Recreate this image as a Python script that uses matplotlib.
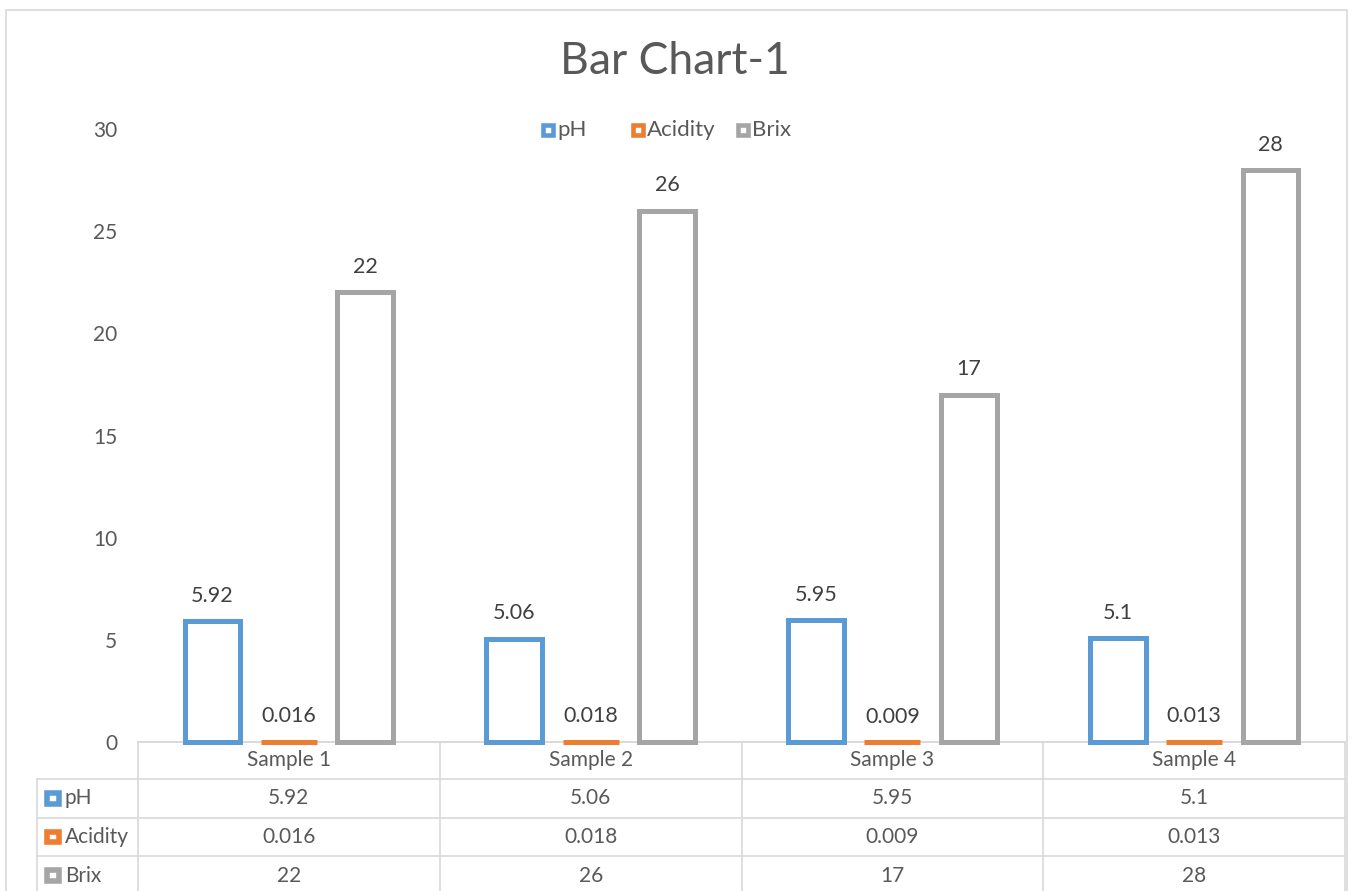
import matplotlib.pyplot as plt
from matplotlib.patches import Rectangle
import numpy as np

samples = ["Sample 1", "Sample 2", "Sample 3", "Sample 4"]
series = ["pH", "Acidity", "Brix"]
ph = [5.92, 5.06, 5.95, 5.1]
acidity = [0.016, 0.018, 0.009, 0.013]
brix = [22, 26, 17, 28]
values = [ph, acidity, brix]
labels_txt = [["5.92", "5.06", "5.95", "5.1"],
              ["0.016", "0.018", "0.009", "0.013"],
              ["22", "26", "17", "28"]]
colors = ["#5B9BD5", "#ED7D31", "#A5A5A5"]
yticks = [0, 5, 10, 15, 20, 25, 30]

plt.rcParams['font.family'] = ['Lato', 'DejaVu Sans']
W, H = 1353, 891
fig = plt.figure(figsize=(W / 100, H / 100), dpi=100)
grid_c = "#D9D9D9"
text_c = "#595959"
fs = 15

# overlay in pixel coordinates for frame, legend and data table
ov = fig.add_axes([0, 0, 1, 1])
ov.set_xlim(0, W)
ov.set_ylim(H, 0)
ov.axis("off")

ov.plot([5.5, 5.5, 1347, 1347], [H + 5, 10, 10, H + 5], color=grid_c, lw=1.2)

x0, x1 = 138, 1345
y_axis, y_top = 742, 129
rows = [742, 779, 818, 856, 895]
tab_left = 37
colw = (x1 - x0) / len(samples)

# horizontal table lines
ov.plot([x0, x1], [rows[0], rows[0]], color=grid_c, lw=1.2)
for r in rows[1:4]:
    ov.plot([tab_left, x1], [r, r], color=grid_c, lw=1.2)
# vertical table lines
ov.plot([tab_left, tab_left], [rows[1], H + 5], color=grid_c, lw=1.2)
for i in range(len(samples) + 1):
    xx = x0 + i * colw
    ov.plot([xx, xx], [rows[0], H + 5], color=grid_c, lw=1.2)

for i, s in enumerate(samples):
    ov.text(x0 + (i + 0.5) * colw, (rows[0] + rows[1]) / 2, s, ha="center", va="center",
            fontsize=fs, color=text_c)
for j, name in enumerate(series):
    yc = (rows[j + 1] + rows[j + 2]) / 2
    ov.add_patch(Rectangle((46.7, yc - 5.2), 12.6, 10.5, facecolor="white",
                           edgecolor=colors[j], lw=4))
    ov.text(65, yc, name, ha="left", va="center", fontsize=fs, color=text_c)
    for i in range(len(samples)):
        ov.text(x0 + (i + 0.5) * colw, yc, labels_txt[j][i], ha="center", va="center",
                fontsize=fs, color=text_c)

# legend (Excel-style keys)
leg_x = [541, 631, 736]
for j, name in enumerate(series):
    ov.add_patch(Rectangle((leg_x[j] + 2.3, 130 - 4.7), 9.4, 9.4, facecolor="white",
                           edgecolor=colors[j], lw=3.3))
    ov.text(leg_x[j] + 16, 130, name, ha="left", va="center", fontsize=16, color=text_c)

ax = fig.add_axes([x0 / W, (H - y_axis) / H, (x1 - x0) / W, (y_axis - y_top) / H])
ax.patch.set_alpha(0)
x = np.arange(len(samples))
offsets = [-0.253, 0, 0.253]
for j, name in enumerate(series):
    bars = ax.bar(x + offsets[j], values[j], width=0.185, facecolor="white",
                  edgecolor=colors[j], linewidth=3.6, label=name, clip_on=False, zorder=3)
    for b, t in zip(bars, labels_txt[j]):
        ax.annotate(t, (b.get_x() + b.get_width() / 2, b.get_height()), xytext=(0, 11),
                    textcoords="offset points", ha="center", va="bottom",
                    fontsize=15.5, color="#404040")

ax.set_xlim(-0.5, 3.5)
ax.set_ylim(0, 30)
ax.set_yticks(yticks)
ax.set_xticks([])
ax.tick_params(axis="y", length=0, pad=15, labelsize=fs, labelcolor=text_c)
for sp in ["top", "right", "left"]:
    ax.spines[sp].set_visible(False)
ax.spines["bottom"].set_color(grid_c)
ax.spines["bottom"].set_linewidth(1.2)

fig.text(675 / W, 1 - 62 / H, "Bar Chart-1", ha="center", va="center", fontsize=32, color=text_c)

fig.savefig("out.png", dpi=100)
